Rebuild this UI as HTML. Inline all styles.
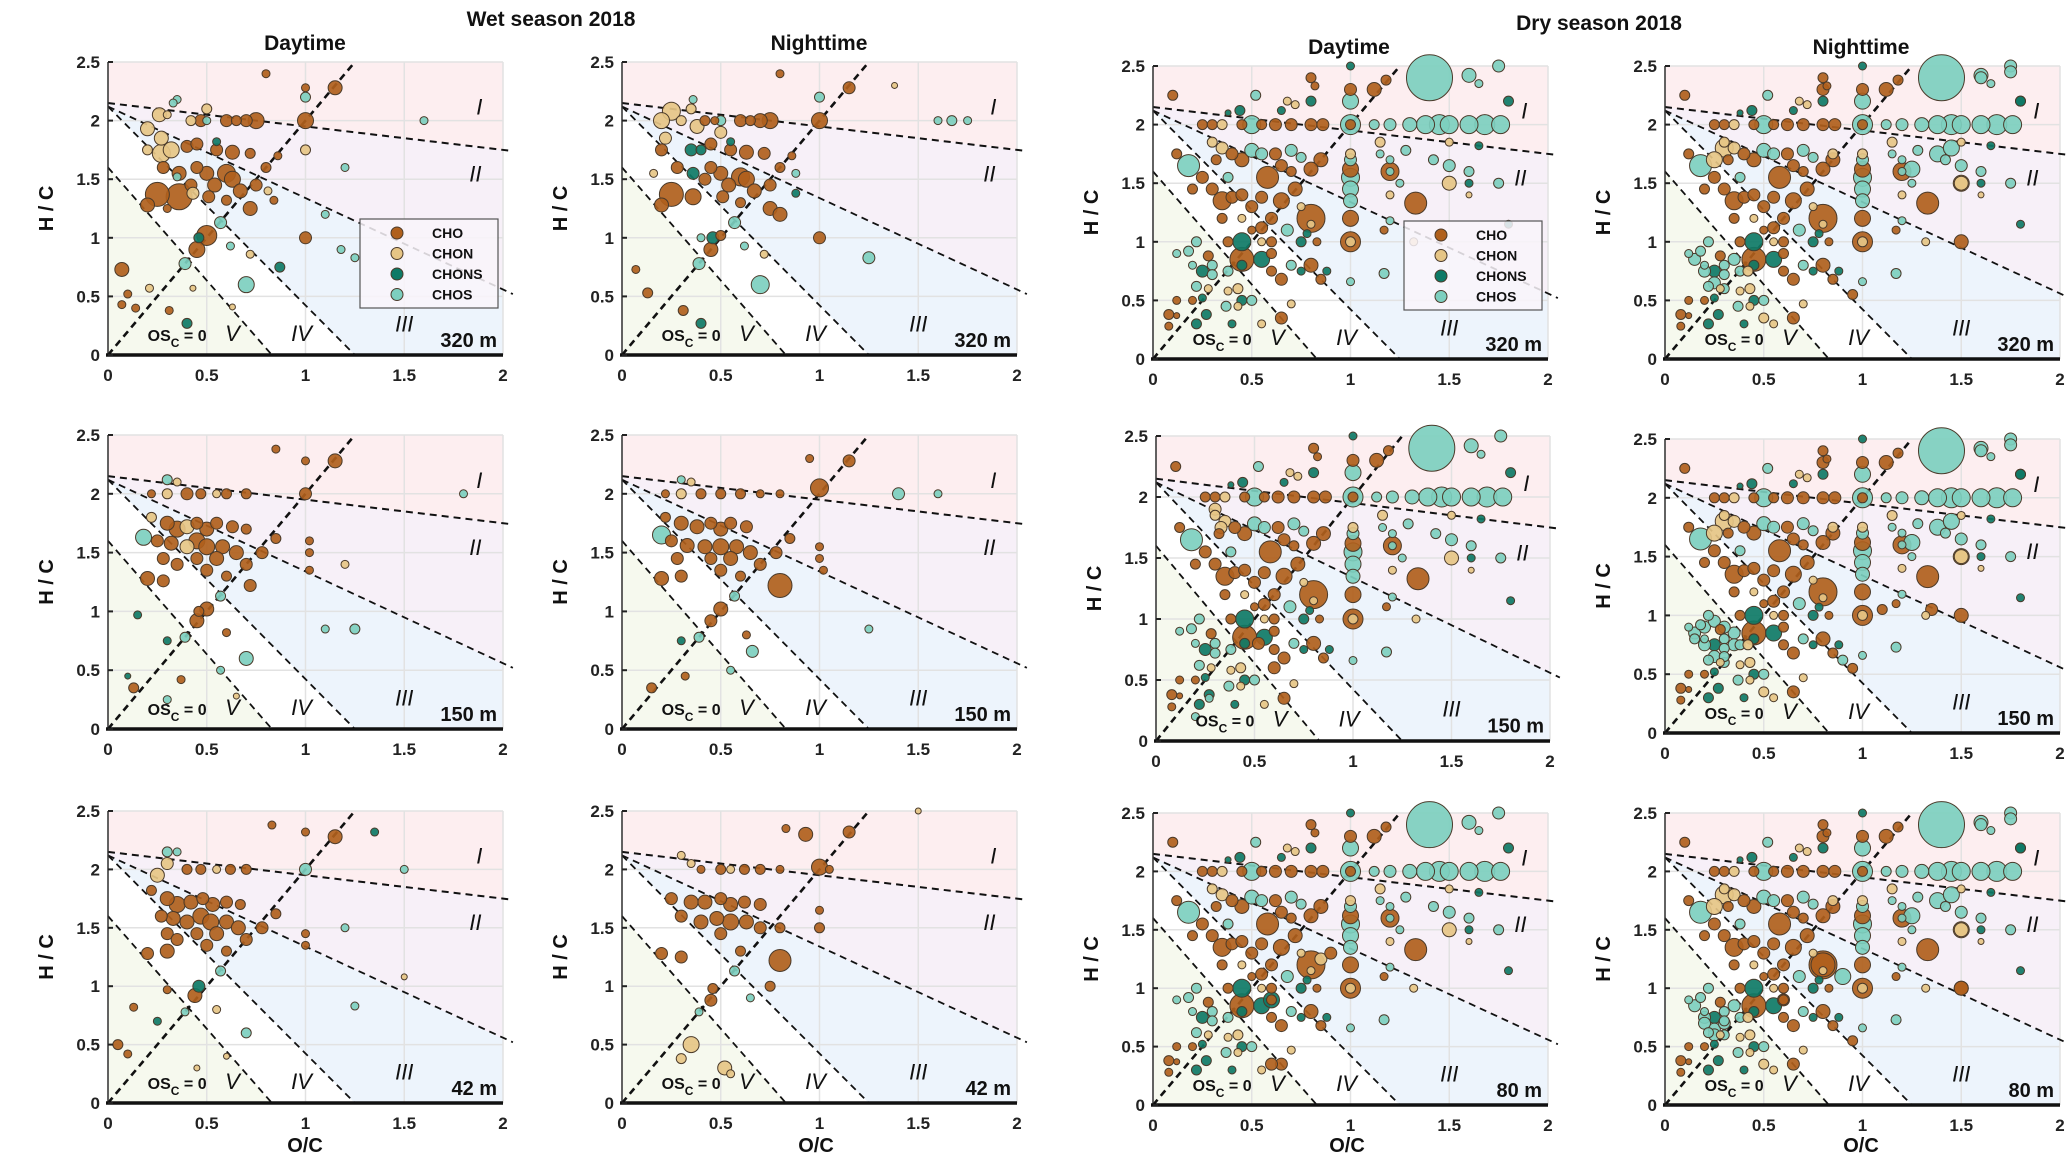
<!DOCTYPE html>
<html><head><meta charset="utf-8"><title>Van Krevelen panels</title>
<style>
html,body{margin:0;padding:0;background:#fff;}
svg{display:block;font-family:"Liberation Sans",sans-serif;}
.tick{font-size:17px;font-weight:bold;fill:#222;}
.ttl{font-size:21px;font-weight:bold;fill:#111;}
.rom{font-size:22px;font-style:italic;fill:#111;font-family:"Liberation Sans",sans-serif;}
.alt{font-size:20px;font-weight:bold;fill:#111;}
.axl{font-size:20px;font-weight:bold;fill:#111;}
</style></head>
<body>
<svg id="fig" width="2067" height="1161" viewBox="0 0 2067 1161" xmlns="http://www.w3.org/2000/svg">
<text x="551" y="26" text-anchor="middle" class="ttl">Wet season 2018</text>
<text x="305" y="50" text-anchor="middle" class="ttl">Daytime</text>
<text x="819" y="50" text-anchor="middle" class="ttl">Nighttime</text>
<text x="1599" y="30" text-anchor="middle" class="ttl">Dry season 2018</text>
<text x="1349" y="54" text-anchor="middle" class="ttl">Daytime</text>
<text x="1861" y="54" text-anchor="middle" class="ttl">Nighttime</text>
<text x="305" y="1152" text-anchor="middle" class="axl" font-size="24">O/C</text>
<text x="816" y="1152" text-anchor="middle" class="axl">O/C</text>
<text x="1347" y="1152" text-anchor="middle" class="axl">O/C</text>
<text x="1861" y="1152" text-anchor="middle" class="axl">O/C</text>
</svg>
<script>
const typeNames = ["CHO","CHON","CHONS","CHOS"];
const typeColors = ["#b0601c","#e6c585","#0e7a66","#7dcfbf"];
const xTicks = [0,0.5,1,1.5,2];
const xTickLabels = ["0","0.5","1","1.5","2"];
const yTicks = [0,0.5,1,1.5,2,2.5];
const yTickLabels = ["0","0.5","1","1.5","2","2.5"];

// points: [O/C, H/C, bubble radius, type index]
const wetDay320 = [[0.8,2.4,4,0],[1,2.28,4,0],[1,2.2,5,3],[1.15,2.28,7,0],[0.35,2.18,4,3],[0.33,2.15,4,3],[0.26,2.05,7,1],[0.5,2.1,5,1],[0.3,2.05,4,1],[0.42,2,5,1],[0.47,2,6,0],[0.5,2,4,3],[0.6,2,6,0],[0.65,2,5,0],[0.7,2,6,0],[0.75,2,8,0],[1,2,8,0],[1.6,2,4,3],[0.2,1.93,7,1],[0.27,1.85,7,1],[0.2,1.75,5,1],[0.32,1.75,8,1],[0.27,1.72,9,1],[0.4,1.78,6,0],[0.45,1.8,6,0],[0.55,1.75,6,0],[0.63,1.73,7,0],[0.72,1.72,5,0],[0.55,1.82,4,2],[1,1.75,5,1],[0.28,1.6,6,0],[0.36,1.55,7,0],[0.45,1.6,6,0],[0.5,1.55,7,0],[0.6,1.55,9,0],[0.63,1.5,8,0],[0.54,1.45,7,0],[0.42,1.45,6,0],[0.35,1.52,4,3],[0.25,1.37,12,0],[0.36,1.35,13,0],[0.43,1.38,6,1],[0.2,1.28,7,0],[0.51,1.35,6,0],[0.67,1.4,7,0],[0.75,1.45,6,0],[0.8,1.6,5,0],[0.86,1.7,4,0],[0.72,1.25,7,0],[0.81,1.4,4,1],[0.84,1.32,4,0],[0.6,1.32,5,0],[0.57,1.13,6,3],[0.5,1.02,10,0],[0.46,1,5,2],[0.45,0.9,8,0],[0.39,0.78,6,3],[0.62,0.93,4,3],[0.72,0.86,4,1],[0.7,0.6,8,3],[0.87,0.75,5,2],[1,1,6,0],[1.1,1.2,4,3],[1.18,0.9,4,3],[1.25,0.83,4,3],[1.2,1.6,4,3],[0.07,0.73,7,0],[0.1,0.52,4,0],[0.07,0.43,4,0],[0.21,0.57,4,1],[0.14,0.4,4,0],[0.31,0.38,4,0],[0.43,0.57,3,1],[0.63,0.41,3,1],[0.4,0.27,5,2],[0.3,1.25,4,0]];
const wetNight320 = [[0.8,2.4,4,0],[1.15,2.28,6,0],[1,2.2,5,3],[1.38,2.3,3,1],[0.36,2.18,4,3],[0.25,2.08,9,1],[0.35,2.1,5,1],[0.2,2,8,1],[0.3,2,5,1],[0.42,2,5,0],[0.47,2,4,0],[0.5,2,5,3],[0.6,2,6,0],[0.65,2,5,0],[0.7,2,7,0],[0.75,2,8,0],[1,2,8,0],[1.6,2,4,3],[1.67,2,5,3],[1.75,2,4,3],[0.38,1.95,7,1],[0.5,1.9,6,1],[0.22,1.85,6,1],[0.2,1.75,6,0],[0.35,1.75,6,2],[0.4,1.75,5,2],[0.45,1.8,6,0],[0.55,1.75,6,0],[0.63,1.73,7,0],[0.72,1.72,6,0],[0.55,1.82,4,2],[0.28,1.6,6,0],[0.36,1.55,6,2],[0.45,1.6,6,0],[0.5,1.55,7,0],[0.6,1.52,9,0],[0.63,1.5,8,0],[0.54,1.45,7,0],[0.42,1.5,6,0],[0.16,1.55,4,1],[0.25,1.37,12,0],[0.36,1.35,8,0],[0.2,1.28,7,0],[0.51,1.35,6,0],[0.67,1.4,7,0],[0.75,1.45,6,0],[0.8,1.6,5,0],[0.86,1.7,4,0],[0.75,1.25,7,0],[0.8,1.2,7,0],[0.88,1.38,4,2],[0.88,1.55,4,3],[0.6,1.3,5,0],[0.57,1.13,6,3],[0.5,1.02,5,0],[0.46,1,6,2],[0.45,0.9,7,0],[0.39,0.78,6,3],[0.62,0.93,4,3],[0.72,0.86,4,1],[0.7,0.6,9,3],[1,1,6,0],[1.25,0.83,6,3],[0.07,0.73,4,0],[0.13,0.53,5,0],[0.4,1,4,3],[0.31,0.38,5,0],[0.4,0.27,5,2]];
const wetDay150 = [[1,2.28,4,0],[1.15,2.28,7,0],[0.85,2.38,4,0],[0.3,2.12,5,3],[0.35,2.1,4,1],[0.22,2,4,0],[0.3,2,5,1],[0.4,2,6,0],[0.47,2,5,0],[0.55,2,4,1],[0.6,2,5,0],[0.7,2,5,0],[1,2,6,0],[1.8,2,4,3],[0.22,1.8,5,1],[0.3,1.75,7,0],[0.35,1.7,8,0],[0.4,1.72,7,1],[0.45,1.75,6,0],[0.5,1.7,7,0],[0.55,1.75,6,0],[0.63,1.72,6,0],[0.7,1.7,5,0],[0.25,1.6,6,0],[0.32,1.58,7,0],[0.4,1.55,7,1],[0.45,1.6,8,0],[0.5,1.55,8,0],[0.58,1.55,7,0],[0.65,1.5,7,0],[0.55,1.45,7,0],[0.45,1.45,6,0],[0.18,1.63,8,3],[0.28,1.45,6,0],[0.35,1.4,6,0],[0.2,1.28,7,0],[0.28,1.26,6,0],[0.5,1.35,6,0],[0.7,1.4,6,0],[0.78,1.5,6,0],[0.85,1.62,5,0],[0.6,1.3,5,0],[0.72,1.22,6,0],[0.57,1.13,5,3],[0.5,1.02,7,0],[0.46,1,5,0],[0.45,0.92,7,0],[0.39,0.78,5,3],[1.02,1.6,4,0],[1.02,1.5,4,0],[1.02,1.35,4,0],[1.2,1.4,4,1],[0.7,0.6,7,3],[1.25,0.85,5,3],[1.1,0.85,4,3],[0.13,0.35,5,0],[0.1,0.45,3,2],[0.15,0.97,4,2],[0.3,0.75,4,2],[0.37,0.42,4,0],[0.3,0.25,4,3],[0.57,0.5,4,3],[0.65,0.28,3,1],[0.6,0.82,4,0]];
const wetNight150 = [[1,2.05,9,0],[0.95,2.3,4,0],[1.15,2.28,6,0],[0.3,2.12,4,3],[0.35,2.1,4,1],[0.22,2,4,0],[0.3,2,5,1],[0.4,2,5,0],[0.5,2,5,0],[0.6,2,5,0],[0.7,2,4,0],[0.8,2,4,0],[1.4,2,6,3],[1.6,2,4,3],[0.2,1.65,9,3],[0.22,1.8,5,0],[0.3,1.75,7,0],[0.38,1.72,7,0],[0.45,1.75,6,0],[0.5,1.7,7,0],[0.55,1.75,6,0],[0.63,1.72,6,0],[0.25,1.6,6,0],[0.33,1.56,7,0],[0.42,1.55,7,0],[0.5,1.55,8,0],[0.58,1.55,7,0],[0.65,1.5,7,0],[0.55,1.45,7,0],[0.45,1.45,6,0],[0.28,1.45,6,0],[0.2,1.28,7,0],[0.3,1.3,6,0],[0.5,1.35,6,0],[0.7,1.4,6,0],[0.78,1.5,6,0],[0.85,1.62,5,0],[0.8,1.22,12,0],[0.6,1.3,5,0],[0.57,1.13,5,3],[0.5,1.02,7,0],[0.45,0.92,6,0],[0.39,0.78,5,3],[1,1.55,4,0],[1,1.45,4,0],[1.02,1.35,4,0],[0.66,0.66,6,3],[0.15,0.35,5,0],[0.3,0.75,4,2],[0.32,0.45,4,0],[0.55,0.5,4,3],[0.63,0.8,4,0],[1.25,0.85,4,3]];
const wetDay42 = [[1,2.32,4,0],[1.15,2.28,7,0],[1.35,2.32,4,2],[0.83,2.38,4,0],[0.3,2.15,5,3],[0.35,2.15,4,3],[0.3,2.05,6,1],[0.25,1.95,7,1],[0.4,2,5,0],[0.47,2,5,0],[0.55,2,4,1],[0.62,2,5,0],[0.7,2,5,0],[1,2,6,3],[1.5,2,4,3],[0.22,1.82,5,0],[0.3,1.75,7,0],[0.35,1.7,8,0],[0.42,1.72,7,0],[0.48,1.75,6,0],[0.53,1.7,7,0],[0.6,1.72,6,0],[0.67,1.7,5,0],[0.27,1.6,6,0],[0.33,1.58,7,0],[0.4,1.55,7,0],[0.47,1.6,8,0],[0.52,1.55,8,0],[0.6,1.55,7,0],[0.66,1.5,7,0],[0.55,1.45,7,0],[0.45,1.45,6,0],[0.3,1.45,6,0],[0.35,1.4,6,0],[0.2,1.28,6,0],[0.3,1.3,7,0],[0.5,1.35,6,0],[0.7,1.4,6,0],[0.78,1.5,6,0],[0.85,1.62,5,0],[0.6,1.3,5,0],[1,1.45,4,0],[1,1.35,4,0],[1.2,1.5,4,3],[0.57,1.13,5,3],[0.46,1,6,2],[0.44,0.92,7,0],[0.39,0.78,4,3],[0.7,0.6,5,3],[1.5,1.08,3,1],[1.25,0.83,4,3],[0.05,0.5,5,0],[0.1,0.42,4,0],[0.13,0.82,4,0],[0.25,0.7,4,2],[0.3,0.97,4,0],[0.55,0.8,4,1],[0.6,0.4,3,1],[0.45,0.3,3,1]];
const wetNight42 = [[1.5,2.5,3,1],[1.15,2.32,6,0],[0.93,2.3,7,0],[0.83,2.35,4,0],[1,2.02,8,0],[0.3,2.12,4,1],[0.35,2.05,4,1],[0.4,2,4,0],[0.5,2,5,0],[0.55,2,4,1],[0.62,2,5,0],[0.7,2,5,0],[0.8,2,4,0],[1.05,2,4,0],[0.25,1.75,6,0],[0.35,1.72,7,0],[0.42,1.72,7,0],[0.5,1.75,6,0],[0.55,1.7,7,0],[0.62,1.72,6,0],[0.7,1.7,6,0],[0.3,1.6,6,0],[0.4,1.55,7,0],[0.48,1.58,7,0],[0.55,1.55,8,0],[0.63,1.55,7,0],[0.7,1.5,6,0],[0.5,1.45,6,0],[0.8,1.5,5,0],[0.2,1.28,6,0],[0.3,1.25,6,0],[0.6,1.3,5,0],[0.8,1.22,11,0],[1,1.5,5,0],[1,1.65,4,0],[0.57,1.13,5,3],[0.46,0.98,5,0],[0.45,0.88,6,0],[0.39,0.78,4,3],[0.35,0.5,8,1],[0.3,0.38,5,1],[0.52,0.3,7,1],[0.55,0.25,4,1],[0.65,0.9,4,3],[0.75,1.0,5,0]];

const dryDay320 = [[1.4,2.4,23,3],[1.33,1.33,11,0],[0.8,1.2,14,0],[0.58,1.55,11,0],[0.18,1.65,11,3],[0.5,2,9,3],[0.25,2,5,0],[0.3,2,5,0],[0.35,2,5,1],[0.45,2,5,0],[0.55,2,5,0],[0.62,2,6,0],[0.7,2,6,0],[0.8,2,6,0],[0.86,2,6,0],[1,2,10,3],[1,2,5,0],[1.12,2,5,3],[1.2,2,6,3],[1.3,2,7,3],[1.38,2,9,3],[1.45,2,10,3],[1.5,2,9,3],[1.6,2,9,3],[1.68,2,10,3],[1.76,2,9,3],[1,2.3,6,0],[1,2.2,8,3],[1,1.75,5,1],[1,1.7,6,3],[1,1.62,8,0],[1,1.55,9,3],[1,1.45,8,3],[1,1.35,7,3],[1,1.2,8,0],[1,1.0,10,0],[1,1.0,5,1],[1,0.66,4,3],[1,2.5,4,2],[1.12,2.3,7,0],[1.18,2.38,5,0],[0.85,1.7,7,0],[0.8,1.62,7,0],[0.72,1.45,7,0],[0.6,1.2,6,0],[0.55,1.12,6,0],[0.45,0.85,12,0],[0.45,1,9,2],[0.45,0.8,5,2],[0.38,0.75,5,3],[1.15,1.75,4,3],[1.2,1.7,4,3],[1.28,1.78,5,3],[1.42,1.7,5,3],[1.5,1.65,6,3],[1.2,1.6,9,0],[1.2,1.6,4,3],[1.25,1.5,4,3],[1.5,1.5,7,1],[1.6,1.6,5,3],[1.65,1.82,4,2],[1.6,1.5,4,2],[1.75,1.5,5,3],[1.6,1.4,3,1],[1.2,1.4,4,1],[1.2,1.18,4,3],[1.32,1.0,4,1],[1.17,1.1,4,0],[1.17,0.73,5,3],[1.8,1.15,4,2],[1.5,1.85,4,1],[1.15,1.85,5,1],[1.8,2.2,5,2],[1.75,2.5,6,3],[1.6,2.42,7,3],[1.65,2.35,4,3],[0.8,2.4,5,0],[0.82,2.33,4,0],[0.8,2.2,5,2],[0.52,2.25,5,3],[0.65,2.12,4,2],[0.72,2.17,4,1],[0.68,2.2,4,1],[0.1,2.25,5,0],[0.44,2.12,5,2],[0.38,2.1,3,2],[0.3,1.85,5,1],[0.35,1.8,6,1],[0.4,1.75,6,0],[0.32,1.7,5,0],[0.45,1.7,7,0],[0.5,1.78,7,3],[0.55,1.75,6,3],[0.62,1.75,6,0],[0.7,1.78,6,3],[0.75,1.72,5,3],[0.65,1.65,6,0],[0.7,1.6,5,0],[0.25,1.55,6,0],[0.3,1.45,6,0],[0.35,1.35,9,0],[0.4,1.38,6,0],[0.45,1.4,6,0],[0.5,1.3,6,0],[0.55,1.38,6,0],[0.65,1.35,8,0],[0.38,1.55,5,3],[0.12,1.75,5,0],[0.2,1.45,5,0],[0.35,1.2,5,0],[0.45,1.2,4,1],[0.5,1.1,4,0],[0.68,1.1,6,3],[0.75,1.3,4,1],[0.8,1.15,4,1],[0.78,1.07,4,2],[0.38,1,5,0],[0.55,1,4,1],[0.6,1,5,0],[0.75,1,5,2],[0.83,1,4,0],[0.55,0.85,8,2],[0.6,0.9,5,0],[0.7,0.8,5,3],[0.8,0.8,7,0],[0.85,0.68,5,0],[0.88,0.75,4,2],[0.65,0.68,6,0],[0.6,0.75,5,0],[0.75,0.75,4,2],[0.12,0.9,4,3],[0.18,0.92,5,3],[0.22,1.0,5,3],[0.28,0.88,5,0],[0.2,0.8,4,3],[0.25,0.75,6,2],[0.3,0.8,5,3],[0.3,0.72,5,3],[0.22,0.62,5,3],[0.28,0.6,4,1],[0.2,0.5,4,0],[0.25,0.52,4,2],[0.12,0.5,4,0],[0.08,0.38,5,0],[0.12,0.37,3,0],[0.08,0.28,4,0],[0.22,0.3,5,2],[0.27,0.38,5,2],[0.37,0.45,5,3],[0.43,0.6,5,1],[0.45,0.5,5,2],[0.5,0.5,5,3],[0.55,0.3,4,1],[0.65,0.35,6,0],[0.4,0.3,4,2],[0.38,0.58,4,1],[0.43,0.45,4,1],[0.7,0.47,4,1]];
const dryNightExtra = [[1.6,2.4,6,3],[1.75,2.45,6,3],[0.8,2.3,6,0],[1.8,2.2,5,2],[1.5,1.5,8,1],[1.25,1.62,8,3],[1.38,1.75,8,3],[1.45,1.8,8,3],[0.3,1.8,9,1],[0.25,1.7,8,1],[0.85,1.75,5,1],[0.2,0.75,6,3],[0.25,0.65,6,3],[0.15,0.85,6,3],[0.3,0.6,5,3],[0.35,0.85,6,3],[0.42,0.75,5,1],[1.5,1.0,7,0],[0.95,0.55,5,0],[0.5,0.35,5,1]];
const dryDay150Extra = [[0.3,1.9,6,1],[0.33,1.75,6,1],[0.6,0.6,6,0],[0.52,0.8,6,0],[0.27,0.35,4,3],[0.2,0.2,4,3]];
const dryNight150Extra = [[0.2,0.9,6,3],[0.25,0.95,6,3],[0.3,0.9,6,3],[0.15,0.8,5,3],[0.35,0.75,6,3],[0.3,0.65,5,3],[1.35,1.05,6,0],[1.1,1.05,5,0],[0.9,0.62,5,3]];
const dryDay80Extra = [[0.85,1.25,6,1],[0.9,1.3,6,0],[0.6,0.9,8,2],[0.6,0.35,6,0]];
const dryNight80Extra = [[0.8,1.2,12,0],[0.6,0.9,6,0],[0.2,0.7,6,3],[0.25,0.6,6,3],[0.3,0.7,6,3],[1.5,1.0,7,0],[0.9,1.1,8,3]];

const panels = [
 {id:"wet-day-320", x0:108,x1:503,yT:62,yB:355, pts:wetDay320, alt:"320 m", legend:true},
 {id:"wet-night-320", x0:622,x1:1017,yT:62,yB:355, pts:wetNight320, alt:"320 m"},
 {id:"wet-day-150", x0:108,x1:503,yT:435,yB:729, pts:wetDay150, alt:"150 m"},
 {id:"wet-night-150", x0:622,x1:1017,yT:435,yB:729, pts:wetNight150, alt:"150 m"},
 {id:"wet-day-42", x0:108,x1:503,yT:811,yB:1103, pts:wetDay42, alt:"42 m"},
 {id:"wet-night-42", x0:622,x1:1017,yT:811,yB:1103, pts:wetNight42, alt:"42 m"},
 {id:"dry-day-320", x0:1153,x1:1548,yT:66,yB:359, pts:dryDay320, alt:"320 m", legend:true},
 {id:"dry-night-320", x0:1665,x1:2060,yT:66,yB:359, pts:dryDay320.concat(dryNightExtra), alt:"320 m"},
 {id:"dry-day-150", x0:1156,x1:1550,yT:436,yB:741, pts:dryDay320.concat(dryDay150Extra), alt:"150 m"},
 {id:"dry-night-150", x0:1665,x1:2060,yT:439,yB:733, pts:dryDay320.concat(dryNightExtra,dryNight150Extra), alt:"150 m"},
 {id:"dry-day-80", x0:1153,x1:1548,yT:813,yB:1105, pts:dryDay320.concat(dryDay80Extra), alt:"80 m"},
 {id:"dry-night-80", x0:1665,x1:2060,yT:813,yB:1105, pts:dryDay320.concat(dryNightExtra,dryNight80Extra), alt:"80 m"}
];

const NS="http://www.w3.org/2000/svg";
const svg=document.getElementById('fig');
function mk(tag,attrs,parent){const e=document.createElementNS(NS,tag);for(const k in attrs)e.setAttribute(k,attrs[k]);(parent||svg).appendChild(e);return e;}

panels.forEach(p=>{
  const sx=v=>p.x0+(p.x1-p.x0)*v/2;
  const sy=v=>p.yB-(p.yB-p.yT)*v/2.5;
  const g=mk('g',{});
  
  
  const poly=(pts,fill,name)=>{const e=mk('polygon',{points:pts.map(q=>sx(q[0])+','+sy(q[1])).join(' '),fill:fill},g);};
  poly([[0,2.5],[2,2.5],[2,1.75],[0,2.15]],'#fdeef0','region-I');
  poly([[0,2.15],[2,1.75],[2,0.55],[0,2.12]],'#f7f0f8','region-II');
  poly([[0,2.12],[2,0.55],[2,0],[1.25,0]],'#edf4fc','region-III');
  poly([[0,1.6],[0.83,0],[0,0]],'#f6f9ee','region-V');
  // grid
  xTicks.forEach(t=>{const l=mk('line',{x1:sx(t),x2:sx(t),y1:sy(0),y2:sy(2.5),stroke:'#e2e2e2','stroke-width':1.5},g);});
  yTicks.forEach(t=>{const l=mk('line',{x1:sx(0),x2:sx(2),y1:sy(t),y2:sy(t),stroke:'#e2e2e2','stroke-width':1.5},g);});
  // dashed lines
  const dl=(a,b,w,name)=>{const l=mk('line',{x1:sx(a[0]),y1:sy(a[1]),x2:sx(b[0]),y2:sy(b[1]),stroke:'#111','stroke-width':w,'stroke-dasharray':'7,5'},g);};
  dl([0,2.15],[2.05,1.74],2,'boundary-I-II');
  dl([0,2.12],[2.05,0.52],1.8,'boundary-II-III');
  dl([0,2.12],[1.25,0],1.8,'boundary-III-IV');
  dl([0,1.6],[0.83,0],1.8,'boundary-IV-V');
  dl([0,0],[1.25,2.5],2.6,'osc-zero-line');
  // bubbles
  const sorted=p.pts.slice().sort((a,b)=>b[2]-a[2]);
  sorted.forEach(d=>{const c=mk('circle',{cx:sx(d[0]),cy:sy(d[1]),r:d[2],fill:typeColors[d[3]],stroke:'#4a3a2a','stroke-width':1,'fill-opacity':0.92},g);});
  // axes
  const ax=mk('line',{x1:sx(0),x2:sx(0),y1:sy(0),y2:sy(2.5),stroke:'#333','stroke-width':1.5},g);
  const bx=mk('line',{x1:sx(0)-2,x2:sx(2),y1:sy(0),y2:sy(0),stroke:'#111','stroke-width':3.5},g);
  yTicks.forEach((t,i)=>{
    const tk=mk('line',{x1:sx(0),x2:sx(0)+5,y1:sy(t),y2:sy(t),stroke:'#222','stroke-width':2},g);
    const tx=mk('text',{x:sx(0)-8,y:sy(t)+6,'text-anchor':'end',class:'tick'},g);tx.textContent=yTickLabels[i];
  });
  xTicks.forEach((t,i)=>{
    const tx=mk('text',{x:sx(t),y:sy(0)+26,'text-anchor':'middle',class:'tick'},g);tx.textContent=xTickLabels[i];
  });
  const yl=mk('text',{x:sx(0)-55,y:(sy(0)+sy(2.5))/2,'text-anchor':'middle',class:'axl',transform:'rotate(-90 '+(sx(0)-55)+' '+((sy(0)+sy(2.5))/2)+')'},g);yl.textContent='H / C';
  // region labels
  const rl=(txt,x,y,name)=>{const t=mk('text',{x:sx(x),y:sy(y),class:'rom','text-anchor':'middle'},g);t.textContent=txt;};
  rl('I',1.88,2.05,'region-label-I');rl('II',1.86,1.48,'region-label-II');rl('III',1.5,0.2,'region-label-III');rl('IV',0.98,0.12,'region-label-IV');rl('V',0.63,0.12,'region-label-V');
  const os=mk('text',{x:sx(0.35),y:sy(0.12),'text-anchor':'middle','font-size':16,'font-weight':'bold',fill:'#111'},g);
  os.innerHTML='OS<tspan dy="6" font-size="12">C</tspan><tspan dy="-6"> = 0</tspan>';
  const al=mk('text',{x:sx(1.97),y:sy(0.07),'text-anchor':'end',class:'alt'},g);al.textContent=p.alt;
  if(p.legend){
    const lx=p.id.startsWith('wet')?360:1404, ly=p.id.startsWith('wet')?219:221;
    const lg=mk('g',{},g);
    mk('rect',{x:lx,y:ly,width:138,height:89,fill:'#f9f5fa','fill-opacity':0.85,stroke:'#555','stroke-width':1.2},lg);
    typeNames.forEach((n,i)=>{
      const e=mk('g',{},lg);
      mk('circle',{cx:lx+37,cy:ly+14+i*20.5,r:6,fill:typeColors[i],stroke:'#4a3a2a','stroke-width':1},e);
      const t=mk('text',{x:lx+72,y:ly+19+i*20.5,'font-size':14,'font-weight':'bold',fill:'#111'},e);t.textContent=n;
    });
  }
});
</script>
</body></html>
